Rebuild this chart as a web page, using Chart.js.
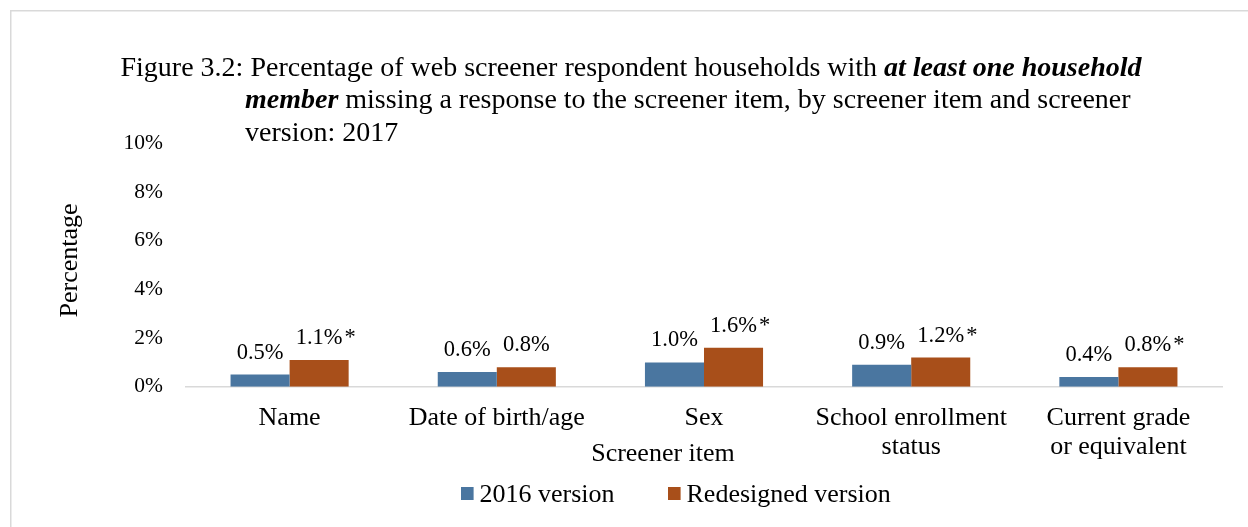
<!DOCTYPE html>
<html>
<head>
<meta charset="utf-8">
<script src="https://cdn.jsdelivr.net/npm/chart.js@4.4.0/dist/chart.umd.min.js"></script>
<style>
body{margin:0;background:#fff;}
canvas{display:block;}
</style>
</head>
<body>
<canvas id="mychart" width="1248" height="527"></canvas>
<script>
// data
var categories = [["Name"], ["Date of birth/age"], ["Sex"], ["School enrollment", "status"], ["Current grade", "or equivalent"]]
var version2016 = [0.5, 0.6, 1.0, 0.9, 0.4]
var redesigned = [1.1, 0.8, 1.6, 1.2, 0.8]
var redesignedStar = [true, false, true, true, true]
var yTicks = [0, 2, 4, 6, 8, 10]

var serif = "'Liberation Serif', 'Times New Roman', serif"

function runs(ctx, x, y, parts){
	parts.forEach(function(p){
		ctx.font = p[0]
		ctx.fillText(p[1], x, y)
		x += ctx.measureText(p[1]).width
	})
}

var extras = {
	id: 'extras',
	beforeDraw: function(chart){
		var ctx = chart.ctx
		ctx.save()
		ctx.fillStyle = '#fff'
		ctx.fillRect(0, 0, chart.width, chart.height)
		ctx.strokeStyle = '#d9d9d9'
		ctx.lineWidth = 1.5
		ctx.beginPath()
		ctx.moveTo(10.75, chart.height)
		ctx.lineTo(10.75, 10.75)
		ctx.lineTo(chart.width, 10.75)
		ctx.stroke()
		ctx.restore()
	},
	afterDraw: function(chart){
		var ctx = chart.ctx
		ctx.save()
		ctx.fillStyle = '#000'
		ctx.textAlign = 'left'
		ctx.textBaseline = 'alphabetic'
		var n = '28px ' + serif
		var bi = 'italic bold 28px ' + serif
		// title
		runs(ctx, 120.5, 75.5, [[n, 'Figure 3.2: Percentage of web screener respondent households with '], [bi, 'at least one household']])
		runs(ctx, 245, 108, [[bi, 'member'], [n, ' missing a response to the screener item, by screener item and screener']])
		runs(ctx, 245, 140.5, [[n, 'version: 2017']])

		// axis titles
		ctx.font = '26px ' + serif
		ctx.textAlign = 'center'
		ctx.fillText('Screener item', 663, 461)
		ctx.save()
		ctx.translate(70, 260.5)
		ctx.rotate(-Math.PI / 2)
		ctx.textBaseline = 'middle'
		ctx.fillText('Percentage', 0, 0)
		ctx.restore()

		// legend
		var legendX = [461, 668]
		chart.data.datasets.forEach(function(ds, i){
			ctx.fillStyle = ds.backgroundColor
			ctx.fillRect(legendX[i], 487, 12.6, 13)
			ctx.fillStyle = '#000'
			ctx.textAlign = 'left'
			ctx.fillText(ds.label, legendX[i] + 18.5, 501.5)
		})

		// value labels
		ctx.font = '22.5px ' + serif
		var sets = [[version2016, null], [redesigned, redesignedStar]]
		sets.forEach(function(s, i){
			chart.getDatasetMeta(i).data.forEach(function(bar, j){
				var txt = s[0][j].toFixed(1) + '%'
				ctx.textAlign = 'center'
				ctx.fillText(txt, bar.x, bar.y - 16)
				if (s[1] && s[1][j]) {
					var w = ctx.measureText(txt).width
					ctx.textAlign = 'left'
					ctx.fillText('*', bar.x + w / 2 + 2, bar.y - 16)
				}
			})
		})
		ctx.restore()
	}
}

var myChart = document.getElementById("mychart").getContext('2d')

var chart = new Chart(myChart, {
	type: 'bar',
	data: {
		labels: categories,
		datasets: [
			{
				label: "2016 version",
				data: version2016,
				backgroundColor: "#4a76a0",
				borderWidth: 0,
				categoryPercentage: 0.57,
				barPercentage: 1.0,
			},
			{
				label: "Redesigned version",
				data: redesigned,
				backgroundColor: "#a84f1a",
				borderWidth: 0,
				categoryPercentage: 0.57,
				barPercentage: 1.0,
			}
		]
	},
	options: {
		responsive: false,
		animation: false,
		devicePixelRatio: 1,
		layout: {padding: {left: 0, right: 26, top: 143.5, bottom: 60.3}},
		plugins: {
			tooltip: {enabled: false},
			legend: {display: false}
		},
		scales: {
			x: {
				grid: {display: false, drawTicks: false},
				border: {display: true, color: '#d9d9d9', width: 1.5},
				ticks: {
					color: '#000',
					padding: 17,
					maxRotation: 0,
					autoSkip: false,
					font: {family: serif, size: 26, lineHeight: 1.12}
				},
				afterFit: function(axis){ axis.height = 80 }
			},
			y: {
				min: 0,
				max: 10,
				grid: {display: false, drawTicks: false},
				border: {display: false},
				afterBuildTicks: function(axis){
					axis.ticks = yTicks.map(function(v){ return {value: v} })
				},
				ticks: {
					color: '#000',
					padding: 23,
					font: {family: serif, size: 21.5},
					callback: function(v){ return v + '%' }
				},
				afterFit: function(axis){ axis.width = 186 }
			}
		}
	},
	plugins: [extras]
})
</script>
</body>
</html>
